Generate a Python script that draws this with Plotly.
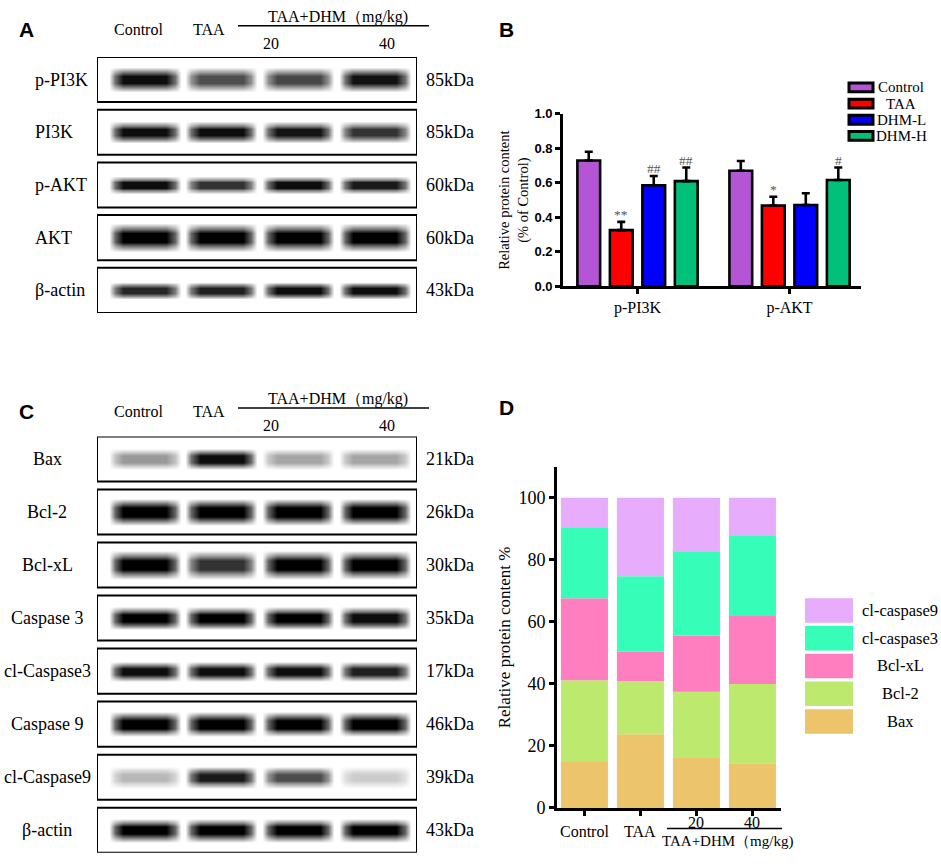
import numpy as np
import plotly.graph_objects as go

W, H = 941, 866
SERIF = "Liberation Serif"
SANS = "Liberation Sans"

# ---- data ----
lanes = ["Control", "TAA", "20", "40"]

# panel A blot: band darkness per lane (0 = blank, 1 = saturated)
blot_a_rows = ["p-PI3K", "PI3K", "p-AKT", "AKT", "β-actin"]
blot_a_kda = ["85kDa", "85kDa", "60kDa", "60kDa", "43kDa"]
blot_a_signal = [
    [0.95, 0.70, 0.72, 0.93],
    [0.95, 0.95, 0.92, 0.80],
    [0.95, 0.80, 0.95, 0.90],
    [1.00, 1.00, 1.00, 1.00],
    [0.85, 0.88, 0.95, 0.95],
]

# panel C blot
blot_c_rows = ["Bax", "Bcl-2", "Bcl-xL", "Caspase 3", "cl-Caspase3",
               "Caspase 9", "cl-Caspase9", "β-actin"]
blot_c_kda = ["21kDa", "26kDa", "30kDa", "35kDa", "17kDa", "46kDa", "39kDa", "43kDa"]
blot_c_signal = [
    [0.40, 0.95, 0.35, 0.35],
    [1.00, 1.00, 1.00, 1.00],
    [1.00, 0.80, 1.00, 1.00],
    [1.00, 1.00, 1.00, 0.95],
    [0.95, 0.95, 0.95, 0.88],
    [1.00, 1.00, 1.00, 1.00],
    [0.28, 0.90, 0.70, 0.20],
    [1.00, 1.00, 1.00, 1.00],
]

# panel B: relative protein content
b_targets = ["p-PI3K", "p-AKT"]
b_groups = ["Control", "TAA", "DHM-L", "DHM-H"]
b_means = [
    [0.730, 0.670],
    [0.326, 0.469],
    [0.586, 0.472],
    [0.610, 0.617],
]
b_errors = [
    [0.050, 0.057],
    [0.048, 0.051],
    [0.054, 0.068],
    [0.079, 0.072],
]
b_marks = [
    ["", ""],
    ["**", "*"],
    ["##", ""],
    ["##", "#"],
]

# panel D: stacked composition (%)
d_groups = ["Control", "TAA", "20", "40"]
d_proteins = ["Bax", "Bcl-2", "Bcl-xL", "cl-caspase3", "cl-caspase9"]
d_bax = [14.8, 23.8, 16.1, 14.4]
d_bcl2 = [26.4, 17.1, 21.4, 25.6]
d_bclxl = [26.4, 9.5, 18.1, 21.9]
d_clc3 = [22.9, 24.3, 27.2, 25.8]
d_clc9 = [9.5, 25.3, 17.2, 12.3]

# ---- styles ----
b_colors = ["#b455d6", "#ff0000", "#0000ff", "#00c07a"]
d_colors = ["#ecc46c", "#bdea6e", "#ff7ec0", "#36fdb8", "#e8acfc"]
band_half_a = [13, 11, 9, 15, 9]
band_half_c = [11, 14, 15, 12, 10, 13, 11, 12]


def fx(x):
    return x / W


def fy(y):
    return 1 - y / H


X_LEFT, X_RIGHT = -0.62, 3.55


def blot_trace(signal, half_px, row_pitch_px, row_h, xa, ya):
    xs, xf, xl = [X_LEFT], [0.0], [0]
    for k in range(len(lanes)):
        for dx, f in ((-0.47, 0.0), (-0.39, 0.6), (-0.28, 1.0), (0.28, 1.0), (0.39, 0.6), (0.47, 0.0)):
            xs.append(k + dx)
            xf.append(f)
            xl.append(k)
    xs.append(X_RIGHT)
    xf.append(0.0)
    xl.append(0)

    ys, yf, yr = [], [], []
    for i in range(len(signal)):
        t = half_px[i] / row_pitch_px
        yc = i + row_h / 2
        pts = [(i + 0.01, 0.0), (yc - t, 0.0), (yc - 0.6 * t, 0.55), (yc - 0.3 * t, 1.0),
               (yc + 0.3 * t, 1.0), (yc + 0.6 * t, 0.55), (yc + t, 0.0), (i + row_h - 0.01, 0.0)]
        for y, f in pts:
            ys.append(y)
            yf.append(f)
            yr.append(i)

    z = np.zeros((len(ys), len(xs)))
    for j in range(len(ys)):
        for k in range(len(xs)):
            z[j, k] = yf[j] * xf[k] * signal[yr[j]][xl[k]]

    return go.Heatmap(
        x=xs, y=ys, z=z, zmin=0, zmax=1, zsmooth="best",
        colorscale=[[0, "white"], [1, "black"]], showscale=False,
        hoverinfo="skip", xaxis=xa, yaxis=ya,
    )


fig = go.Figure()

# blots
ROW_H_A = 46 / 53.75
ROW_H_C = 46 / 54.1
fig.add_trace(blot_trace(blot_a_signal, band_half_a, 53.75, ROW_H_A, "x", "y"))
fig.add_trace(blot_trace(blot_c_signal, band_half_c, 54.1, ROW_H_C, "x3", "y3"))

# panel B bars
for j, name in enumerate(b_groups):
    fig.add_trace(go.Bar(
        x=b_targets, y=b_means[j], name=name,
        marker=dict(color=b_colors[j], line=dict(color="black", width=2.6)),
        error_y=dict(type="data", array=b_errors[j], arrayminus=[0] * len(b_targets),
                     symmetric=False, color="black", thickness=2.6, width=4),
        xaxis="x2", yaxis="y2", showlegend=False,
    ))

# panel D stacked bars
d_values = [d_bax, d_bcl2, d_bclxl, d_clc3, d_clc9]
base = np.zeros(len(d_groups))
for i, name in enumerate(d_proteins):
    fig.add_trace(go.Bar(
        x=d_groups, y=d_values[i], base=base.copy(), name=name,
        marker=dict(color=d_colors[i], line=dict(width=0)),
        offsetgroup="d", width=0.84,
        xaxis="x4", yaxis="y4", showlegend=False,
    ))
    base = base + np.array(d_values[i])

shapes = []
ann = []

# blot row frames and labels
for rows, kda, row_h, ya, xa, top, pitch, left_center, align in (
    (blot_a_rows, blot_a_kda, ROW_H_A, "y", "x", 51, 53.75, None, "left"),
    (blot_c_rows, blot_c_kda, ROW_H_C, "y3", "x3", 438, 54.1, 47, "center"),
):
    for i, lab in enumerate(rows):
        shapes.append(dict(type="rect", xref=xa, yref=ya, x0=X_LEFT, x1=X_RIGHT,
                           y0=i, y1=i + row_h, line=dict(color="black", width=2)))
        yc = top + (i + row_h / 2) * pitch
        if align == "left":
            ann.append(dict(text=lab, x=fx(33), y=fy(yc), xanchor="left", yanchor="middle",
                            font=dict(family=SERIF, size=18, color="black")))
        else:
            ann.append(dict(text=lab, x=fx(left_center), y=fy(yc), xanchor="center", yanchor="middle",
                            font=dict(family=SERIF, size=18, color="black")))
        ann.append(dict(text=kda[i], x=fx(424), y=fy(yc), xanchor="left", yanchor="middle",
                        font=dict(family=SERIF, size=18, color="black")))

# blot headers
for y_top, letter in ((0, "A"), (390, "C")):
    ann.append(dict(text="<b>%s</b>" % letter, x=fx(17), y=fy(y_top + 23), xanchor="left", yanchor="middle",
                    font=dict(family=SANS, size=21, color="black")))
    ann.append(dict(text=lanes[0], x=fx(138), y=fy(y_top + 23), xanchor="center", yanchor="middle",
                    font=dict(family=SERIF, size=16, color="black")))
    ann.append(dict(text=lanes[1], x=fx(209), y=fy(y_top + 23), xanchor="center", yanchor="middle",
                    font=dict(family=SERIF, size=16, color="black")))
    ann.append(dict(text="TAA+DHM（mg/kg)", x=fx(338), y=fy(y_top + 10), xanchor="center", yanchor="middle",
                    font=dict(family=SERIF, size=16, color="black")))
    ann.append(dict(text=lanes[2], x=fx(271), y=fy(y_top + 37), xanchor="center", yanchor="middle",
                    font=dict(family=SERIF, size=16, color="black")))
    ann.append(dict(text=lanes[3], x=fx(387), y=fy(y_top + 37), xanchor="center", yanchor="middle",
                    font=dict(family=SERIF, size=16, color="black")))
    shapes.append(dict(type="line", xref="paper", yref="paper", x0=fx(238), x1=fx(429),
                       y0=fy(y_top + 19), y1=fy(y_top + 19), line=dict(color="black", width=1.5)))

# panel letters B, D
ann.append(dict(text="<b>B</b>", x=fx(497), y=fy(23), xanchor="left", yanchor="middle",
                font=dict(family=SANS, size=21, color="black")))
ann.append(dict(text="<b>D</b>", x=fx(497), y=fy(409), xanchor="left", yanchor="middle",
                font=dict(family=SANS, size=21, color="black")))

# significance marks in B
for j in range(len(b_groups)):
    for k in range(len(b_targets)):
        if b_marks[j][k]:
            ann.append(dict(text=b_marks[j][k], xref="x2", yref="y2", x=k,
                            y=b_means[j][k] + b_errors[j][k], xshift=(j - 1.5) * 32.5,
                            yanchor="bottom", yshift=-2, showarrow=False,
                            font=dict(family=SERIF, size=13.5, color="#555555")))

# legend B
for j, name in enumerate(b_groups):
    yc = 82 + j * 16.5
    shapes.append(dict(type="rect", xref="paper", yref="paper", x0=fx(849), x1=fx(873),
                       y0=fy(yc - 4.5), y1=fy(yc + 4.5), fillcolor=b_colors[j],
                       line=dict(color="black", width=3)))
    ann.append(dict(text=name, x=fx(901), y=fy(yc), xanchor="center", yanchor="middle",
                    font=dict(family=SERIF, size=15, color="black")))

# legend D (top to bottom: last stacked first)
for n, i in enumerate(range(len(d_proteins) - 1, -1, -1)):
    top = 603 + n * 28.3
    shapes.append(dict(type="rect", xref="paper", yref="paper", x0=fx(805), x1=fx(853),
                       y0=fy(top), y1=fy(top + 25), fillcolor=d_colors[i], line=dict(width=0)))
    ann.append(dict(text=d_proteins[i], x=fx(900), y=fy(top + 12.5), xanchor="center", yanchor="middle",
                    font=dict(family=SERIF, size=16.5, color="black")))

# D x labels
for k, g in enumerate(d_groups):
    ann.append(dict(text=g, xref="x4", yref="paper", x=k, y=fy(841 if k < 2 else 832),
                    xanchor="center", yanchor="middle", showarrow=False,
                    font=dict(family=SERIF, size=16, color="black")))
ann.append(dict(text="TAA+DHM（mg/kg)", x=fx(727), y=fy(851), xanchor="center", yanchor="middle",
                font=dict(family=SERIF, size=15, color="black")))
shapes.append(dict(type="line", xref="paper", yref="paper", x0=fx(667), x1=fx(782),
                   y0=fy(838), y1=fy(838), line=dict(color="black", width=1.5)))

for a in ann:
    a.setdefault("xref", "paper")
    a.setdefault("yref", "paper")
    a.setdefault("showarrow", False)

hidden = dict(visible=False, fixedrange=True)

fig.update_layout(
    width=W, height=H,
    margin=dict(l=0, r=0, t=0, b=0),
    paper_bgcolor="white", plot_bgcolor="white",
    barmode="group", bargap=0.145, bargroupgap=0.3,
    showlegend=False,
    shapes=shapes, annotations=ann,
    xaxis=dict(domain=[fx(97), fx(417)], range=[X_LEFT, X_RIGHT], anchor="y", **hidden),
    yaxis=dict(domain=[fy(51 + 4.856 * 53.75), fy(51)], range=[4 + ROW_H_A, 0], anchor="x", **hidden),
    xaxis3=dict(domain=[fx(97), fx(417)], range=[X_LEFT, X_RIGHT], anchor="y3", **hidden),
    yaxis3=dict(domain=[fy(438 + (7 + ROW_H_C) * 54.1), fy(438)], range=[7 + ROW_H_C, 0], anchor="x3", **hidden),
    xaxis2=dict(
        domain=[fx(563), fx(861)], range=[-0.49, 1.47], anchor="y2",
        showline=True, linewidth=2.6, linecolor="black", ticks="outside",
        ticklen=5, tickwidth=2.6, tickcolor="black", showgrid=False, zeroline=False,
        tickfont=dict(family=SERIF, size=16, color="black"),
    ),
    yaxis2=dict(
        domain=[fy(285), fy(109)], range=[0, 1.0], anchor="x2",
        tickvals=[0, 0.2, 0.4, 0.6, 0.8, 1.0], tickformat=".1f",
        showline=True, linewidth=2.6, linecolor="black", ticks="outside",
        ticklen=5, tickwidth=2.6, tickcolor="black", showgrid=False, zeroline=False,
        tickfont=dict(family=SANS, size=13, color="black", weight="bold"),
        title=dict(text="Relative protein content<br>(% of Control)", standoff=3,
                   font=dict(family=SERIF, size=14.5, color="black")),
    ),
    xaxis4=dict(
        domain=[fx(557), fx(781)], range=[-0.49, 3.51], anchor="y4",
        showline=True, linewidth=2.6, linecolor="black", ticks="outside",
        ticklen=5, tickwidth=2.6, tickcolor="black", showgrid=False, zeroline=False,
        showticklabels=False,
    ),
    yaxis4=dict(
        domain=[fy(817), fy(469)], range=[0, 110], anchor="x4",
        tickvals=[0, 20, 40, 60, 80, 100],
        showline=True, linewidth=2.6, linecolor="black", ticks="outside",
        ticklen=5, tickwidth=2.6, tickcolor="black", showgrid=False, zeroline=False,
        tickfont=dict(family=SERIF, size=18, color="black"),
        title=dict(text="Relative protein content %", standoff=4,
                   font=dict(family=SERIF, size=17, color="black")),
    ),
)

# page body margin would push the 941x866 figure past the window edge
fig.write_html(
    "out.html",
    config={"displayModeBar": False},
    post_script="document.body.style.margin='0';document.body.style.overflow='hidden';",
)
